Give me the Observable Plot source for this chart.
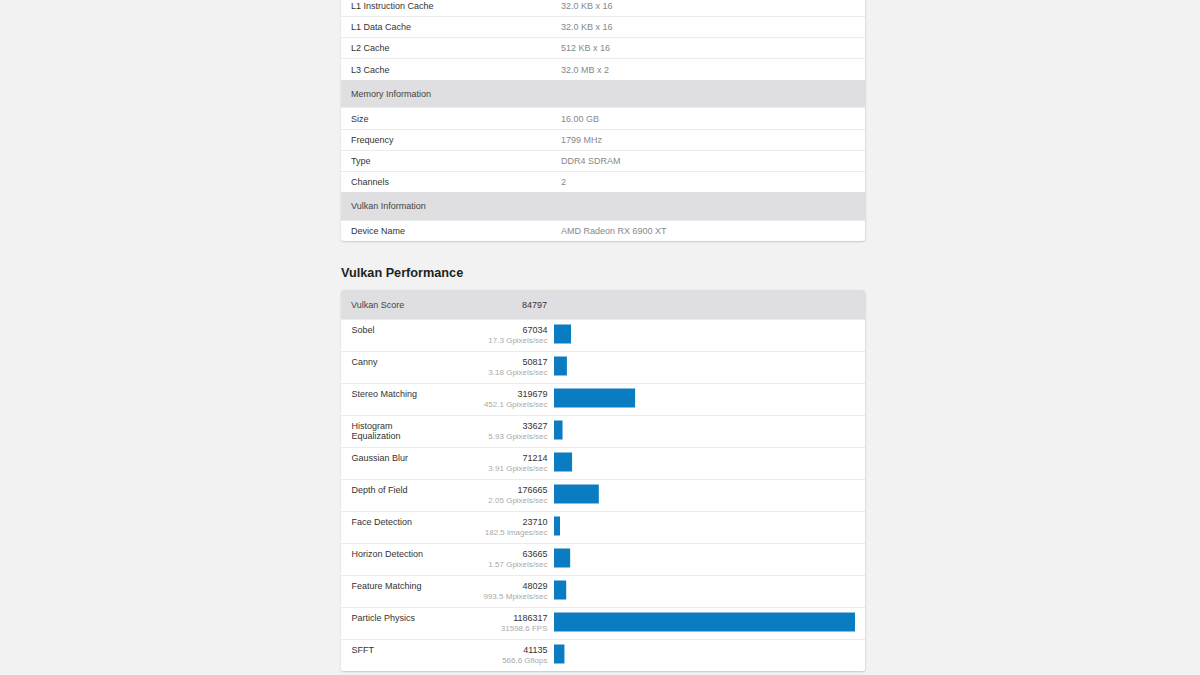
<!DOCTYPE html>
<html>
<head>
<meta charset="utf-8">
<script src="https://cdn.jsdelivr.net/npm/d3@7"></script>
<script src="https://cdn.jsdelivr.net/npm/@observablehq/plot@0.6"></script>
<style>
  html, body { margin: 0; padding: 0; }
  body { width: 1200px; height: 675px; overflow: hidden; background: #f2f2f2; position: relative;
         font-family: "Liberation Sans", Arial, Helvetica, sans-serif; }
  .panel { position: absolute; left: 341px; width: 524px; background: #fff; border-radius: 3px;
           box-shadow: 0 1px 2px rgba(0,0,0,0.16), 1px 0 2px rgba(0,0,0,0.05); overflow: hidden; }
  .row { position: relative; border-top: 1px solid #ebebeb; box-sizing: border-box; font-size: 9px; }
  .row:first-child { border-top: none; }
  .row .k { position: absolute; left: 10px; top: 50%; transform: translateY(-50%); color: #333; }
  .row .v { position: absolute; left: 220px; top: 50%; transform: translateY(-50%); color: #888; }
  .row.head { background: #dfdfe1; border-top: none; }
  .row.head .k { color: #444; }
  h2 { position: absolute; left: 341px; top: 266px; margin: 0; font-size: 12.7px; font-weight: bold; color: #222; }
  .score .v { left: auto; right: 318px; color: #333; }
</style>
</head>
<body>
<div class="panel" id="sys" style="top:-5px"></div>
<h2>Vulkan Performance</h2>
<div class="panel" id="perf" style="top:290px">
  <div class="row head score" style="height:29px"><span class="k">Vulkan Score</span><span class="v" id="vscore"></span></div>
  <div id="chart"></div>
</div>
<script>
// System information table
const sysLabels = ["L1 Instruction Cache", "L1 Data Cache", "L2 Cache", "L3 Cache",
  "Memory Information", "Size", "Frequency", "Type", "Channels",
  "Vulkan Information", "Device Name"];
const sysValues = ["32.0 KB x 16", "32.0 KB x 16", "512 KB x 16", "32.0 MB x 2",
  null, "16.00 GB", "1799 MHz", "DDR4 SDRAM", "2",
  null, "AMD Radeon RX 6900 XT"];

// Vulkan performance
const vulkanScore = 84797;
const tests = ["Sobel", "Canny", "Stereo Matching", "Histogram Equalization", "Gaussian Blur",
  "Depth of Field", "Face Detection", "Horizon Detection", "Feature Matching",
  "Particle Physics", "SFFT"];
const scores = [67034, 50817, 319679, 33627, 71214, 176665, 23710, 63665, 48029, 1186317, 41135];
const rates = ["17.3 Gpixels/sec", "3.18 Gpixels/sec", "452.1 Gpixels/sec", "5.93 Gpixels/sec",
  "3.91 Gpixels/sec", "2.05 Gpixels/sec", "182.5 images/sec", "1.57 Gpixels/sec",
  "993.5 Mpixels/sec", "31598.6 FPS", "566.6 Gflops"];

// build system table
const sys = document.getElementById("sys");
const heights = [21, 21, 21, 22, 27, 22, 21, 21, 21, 28, 21];
sysLabels.forEach((lab, i) => {
  const r = document.createElement("div");
  const head = sysValues[i] === null;
  r.className = "row" + (head ? " head" : "");
  r.style.height = heights[i] + "px";
  r.innerHTML = `<span class="k">${lab}</span>` + (head ? "" : `<span class="v">${sysValues[i]}</span>`);
  sys.appendChild(r);
});
document.getElementById("vscore").textContent = vulkanScore;

const data = tests.map((name, i) => ({name, score: scores[i], rate: rates[i]}));
const W = 524, rowH = 32;
const chart = Plot.plot({
  width: W,
  height: rowH * tests.length,
  margin: 0,
  style: {fontFamily: "Liberation Sans, Arial, Helvetica, sans-serif", fontSize: "9px", background: "#fff"},
  x: {domain: [0, d3.max(scores)], range: [213, 514], axis: null},
  y: {domain: tests, range: [0, rowH * tests.length], padding: 0, axis: null},
  marks: [
    Plot.ruleY(tests, {y: d => d, dy: -rowH / 2, stroke: "#ebebeb", strokeWidth: 1}),
    Plot.barX(data, {x: "score", y: "name", fill: "#0a7cc2", insetTop: 5.5, insetBottom: 7.5}),
    Plot.text(data, {y: "name", text: "name", frameAnchor: "left", dx: 10, dy: -10.5,
      lineAnchor: "top", lineWidth: 9, lineHeight: 1.2, textAnchor: "start", fill: "#333", fontSize: 9}),
    Plot.text(data, {y: "name", text: d => String(d.score), frameAnchor: "left", dx: 206, dy: -5.5,
      textAnchor: "end", fill: "#333", fontSize: 9}),
    Plot.text(data, {y: "name", text: "rate", frameAnchor: "left", dx: 206, dy: 5,
      textAnchor: "end", fill: "#aaa", fontSize: 8})
  ]
});
document.getElementById("chart").appendChild(chart);
</script>
</body>
</html>
